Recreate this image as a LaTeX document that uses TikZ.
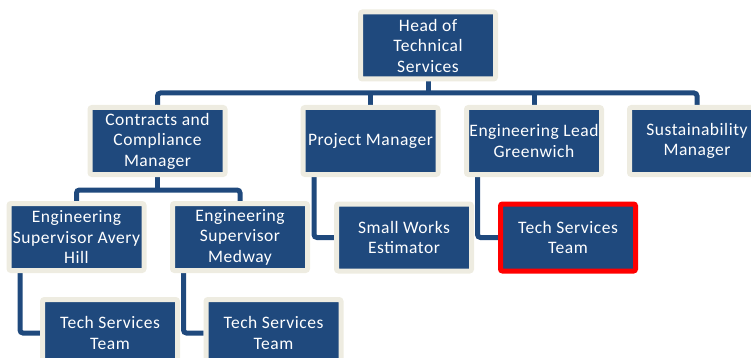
\documentclass[tikz,border=0pt]{standalone}
\usepackage{fontspec}
\setmainfont[LetterSpace=3]{Carlito}
\usetikzlibrary{backgrounds}
\definecolor{orgblue}{HTML}{1F497D}
\definecolor{orgtan}{HTML}{EEECE1}
\begin{document}
\begin{tikzpicture}[
x=1pt,y=-1pt,
box/.style={%
draw=orgtan,
line width=5pt,
rounded corners=2pt,
fill=orgblue,
text=white,
align=center,
inner sep=1pt,
minimum width=135pt,
minimum height=67pt,
font=\fontsize{17.5}{20.5}\selectfont
},
redbox/.style={%
box,
draw=red
},
conn/.style={%
draw=orgblue,
line width=5pt,
rounded corners=3pt
}
]
\useasboundingbox(0,0)rectangle(751,358);
%% Top
\node[box]at(428,45.5)(head){Head of\\Technical\\Services};
%% Managers
\node[box]at(157.5,141)(cc){Contracts and\\Compliance\\Manager};
\node[box]at(370.5,141)(pm){Project Manager};
\node[box]at(534,141)(el){Engineering Lead\\Greenwich};
\node[box]at(697,141)(sm){Sustainability\\Manager};
%% Supervisors and teams
\node[box]at(76.5,237)(av){Engineering\\Supervisor Avery\\Hill};
\node[box]at(240,237)(mw){Engineering\\Supervisor\\Medway};
\node[box]at(404,237.5)(swe){Small Works\\Estimator};
\node[redbox]at(568,237.5)(tsg){Tech Services\\Team};
\node[box]at(110,333)(tsa){Tech Services\\Team};
\node[box]at(273.5,333)(tsm){Tech Services\\Team};
%% Connectors
\coordinate(top)at(428,93);
\coordinate(mid)at(157.5,190);
\begin{scope}[on background layer]
\draw[conn](head.south)--(top);
\draw[conn](cc.north)|-(top)-|(sm.north);
\draw[conn](pm.north)--(pm.north|-top);
\draw[conn](el.north)--(el.north|-top);
\draw[conn](cc.south)--(mid);
\draw[conn](av.north)|-(mid)-|(mw.north);
\draw[conn]([xshift=13.5pt]av.south west)|-(tsa.west);
\draw[conn]([xshift=13.5pt]mw.south west)|-(tsm.west);
\draw[conn]([xshift=13.5pt]pm.south west)|-(swe.west);
\draw[conn]([xshift=13.5pt]el.south west)|-(tsg.west);
\end{scope}
\end{tikzpicture}
\end{document}
